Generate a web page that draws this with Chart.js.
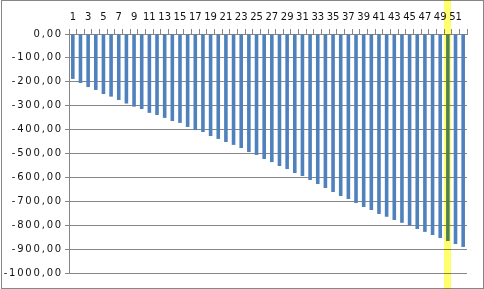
<!DOCTYPE html>
<html>
<head>
<meta charset="utf-8">
<script src="https://cdn.jsdelivr.net/npm/chart.js@4/dist/chart.umd.min.js"></script>
<style>
  html, body { margin: 0; padding: 0; background: #fff; }
  canvas { display: block; }
</style>
</head>
<body>
<canvas id="barChart" width="484" height="289"></canvas>
<script>
// 52 periods, labels shown on odd ones only
const categories = ['1','2','3','4','5','6','7','8','9','10','11','12','13','14','15','16','17','18','19','20',
  '21','22','23','24','25','26','27','28','29','30','31','32','33','34','35','36','37','38','39','40',
  '41','42','43','44','45','46','47','48','49','50','51','52'];

const values = [-188, -205, -222, -234, -251, -262, -276, -291, -304, -314,
  -330, -339, -351, -364, -372, -389, -402, -410, -427, -439,
  -452, -464, -477, -494, -506, -523, -536, -552, -565, -582,
  -594, -611, -628, -644, -661, -678, -690, -707, -724, -736,
  -753, -765, -778, -790, -802, -816, -828, -841, -854, -866,
  -879, -891];

const yMin = -1000;
const yMax = 0;
const yStep = 100;

const highlightIndex = 49; // bar "50" marked in yellow

const gridColor = '#868686';

// yellow marker over one bar + outer frame
const highlightPlugin = {
  id: 'highlight',
  afterLayout(chart) {
    const y = chart.scales.y;
    if (y && !y._spaced) {
      const orig = y.drawLabels;
      y.drawLabels = function (area) {
        this.ctx.save();
        this.ctx.letterSpacing = '1.8px';
        orig.call(this, area);
        this.ctx.restore();
      };
      y._spaced = true;
    }
  },
  afterDraw(chart) {
    const ctx = chart.ctx;
    const x = chart.scales.x.getPixelForValue(highlightIndex);
    ctx.save();
    ctx.strokeStyle = gridColor;
    ctx.lineWidth = 1;
    ctx.strokeRect(1.5, 0.5, 482, 288);
    ctx.globalCompositeOperation = 'multiply';
    ctx.fillStyle = 'rgb(255,255,110)';
    ctx.fillRect(Math.round(x - 4), 0, 7, chart.height);
    ctx.restore();
  }
};

const ctx = document.getElementById('barChart').getContext('2d');

new Chart(ctx, {
  type: 'bar',
  data: {
    labels: categories,
    datasets: [{
      data: values,
      backgroundColor: '#4F81BD',
      borderWidth: 0,
      categoryPercentage: 1,
      barPercentage: 0.47
    }]
  },
  options: {
    responsive: false,
    animation: false,
    devicePixelRatio: 1,
    layout: { padding: { left: 0, right: 17, top: 0, bottom: 16 } },
    plugins: {
      legend: { display: false },
      tooltip: { enabled: false }
    },
    scales: {
      x: {
        position: 'top',
        grid: { drawOnChartArea: false, color: gridColor, tickLength: 5 },
        border: { color: gridColor },
        ticks: {
          autoSkip: false,
          maxRotation: 0,
          padding: 6,
          color: '#111',
          font: { family: 'DejaVu Sans', size: 10 },
          callback: (v, i) => (i % 2 === 0 ? categories[i] : '')
        },
        afterFit: s => { s.height = 34; }
      },
      y: {
        min: yMin,
        max: yMax,
        grid: { color: gridColor, tickLength: 4 },
        border: { color: gridColor },
        ticks: {
          stepSize: yStep,
          padding: 2,
          color: '#111',
          font: { family: 'DejaVu Sans', size: 10 },
          callback: v => v.toFixed(2).replace('.', ',')
        },
        afterFit: s => { s.width = 69; }
      }
    }
  },
  plugins: [highlightPlugin]
});
</script>
</body>
</html>
